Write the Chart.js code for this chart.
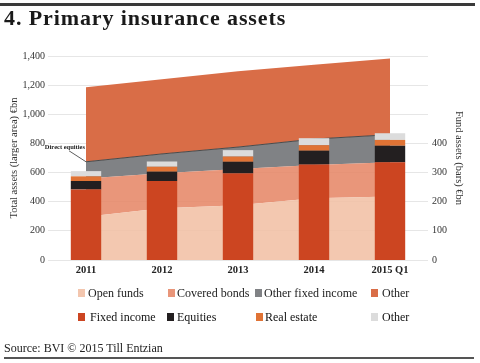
<!DOCTYPE html>
<html>
<head>
<meta charset="utf-8">
<script src="https://cdn.jsdelivr.net/npm/chart.js@4.4.1/dist/chart.umd.min.js"></script>
<style>
  html, body { margin:0; padding:0; background:#fff; }
  body { width:480px; height:363px; position:relative; overflow:hidden; font-family:"Liberation Serif", serif; color:#222; }
  #wrap { position:absolute; left:0; top:0; width:480px; height:363px; }
  .rule-top { position:absolute; left:0; top:3px; width:475px; height:3px; background:#3a3a3a; }
  .rule-bot { position:absolute; left:4px; top:357px; width:470px; height:1.5px; background:#555; }
  .title { position:absolute; left:4px; top:5px; font-weight:bold; font-size:22px; letter-spacing:0.9px; color:#1a1a1a; white-space:nowrap; }
  .source { position:absolute; left:4px; top:341px; font-size:12px; color:#222; white-space:nowrap; }
  .leg { position:absolute; font-size:12px; color:#222; white-space:nowrap; line-height:12px; }
  .leg.b { color:#111; }
  .sw { position:absolute; width:7px; height:7.5px; }
</style>
</head>
<body>
<div id="wrap"><canvas id="c" width="480" height="363"></canvas></div>
<div class="rule-top"></div>
<div class="title">4. Primary insurance assets</div>
<div id="legend"></div>
<div class="source">Source: BVI © 2015 Till Entzian</div>
<div class="rule-bot"></div>
<script>
// ---- data ----
const categories = ['2011', '2012', '2013', '2014', '2015 Q1'];
// areas (left axis, total assets €bn, stacked)
const openFunds        = [297, 355, 375, 423, 436];
const coveredBonds     = [263, 240, 250, 229, 234];
const otherFixedIncome = [114, 133, 150, 178, 190];
const otherArea        = [512, 512, 520, 510, 522];
// bars (right axis, fund assets €bn, stacked)
const fixedIncome = [242, 271, 297, 328, 335];
const equities    = [29, 32, 40, 47, 57];
const realEstate  = [16, 17, 18, 19, 20];
const otherBars   = [18, 18, 22, 24, 23];
const leftTicks  = [0, 200, 400, 600, 800, 1000, 1200, 1400];
const rightTicks = [0, 100, 200, 300, 400];

const C = {
  open: 'rgba(241,192,165,0.88)', cov: 'rgba(230,136,104,0.88)', ofi: '#808285', oth: '#d96d47',
  fi: '#cc4521', eq: '#231f20', re: '#e07335', ob: '#dcdcdc',
  openSw: '#f3c6ae', covSw: '#e9967a'
};

// legend (HTML)
const legendItems = [
  {t:'Open funds', c:C.openSw, sx:78, tx:88, y:289},
  {t:'Covered bonds', c:C.covSw, sx:168, tx:177, y:289},
  {t:'Other fixed income', c:C.ofi, sx:255, tx:264, y:289},
  {t:'Other', c:C.oth, sx:371, tx:382, y:289},
  {t:'Fixed income', c:C.fi, sx:78, tx:90, y:313, b:true},
  {t:'Equities', c:C.eq, sx:167, tx:177, y:313, b:true},
  {t:'Real estate', c:C.re, sx:256, tx:265, y:313, b:true},
  {t:'Other', c:C.ob, sx:371, tx:382, y:313, b:true}
];
const lg = document.getElementById('legend');
legendItems.forEach(it => {
  const s = document.createElement('div'); s.className='sw';
  s.style.left = it.sx+'px'; s.style.top = it.y+'px'; s.style.background = it.c; lg.appendChild(s);
  const t = document.createElement('div'); t.className = it.b ? 'leg b' : 'leg';
  t.style.left = it.tx+'px'; t.style.top = (it.y-2)+'px'; t.textContent = it.t; lg.appendChild(t);
});

const annot = {
  id: 'annot',
  afterDatasetsDraw(chart) {
    const {ctx, scales:{x, y}} = chart;
    const px = x.getPixelForValue(0);
    const py = y.getPixelForValue(openFunds[0] + coveredBonds[0] + otherFixedIncome[0]);
    ctx.save();
    ctx.strokeStyle = '#333'; ctx.lineWidth = 0.8;
    ctx.beginPath(); ctx.moveTo(px - 17, py - 11); ctx.lineTo(px, py); ctx.stroke();
    ctx.fillStyle = '#222';
    ctx.font = 'bold 6.5px "Liberation Serif", serif';
    ctx.textAlign = 'right'; ctx.textBaseline = 'middle';
    ctx.fillText('Direct equities', px - 1, py - 14);
    ctx.restore();
  }
};

const area = (label, data, color, idx, extra) => Object.assign({
  type: 'line', label, data, yAxisID: 'y', stack: 'area', order: 1,
  backgroundColor: color, borderColor: color, borderWidth: 0,
  pointRadius: 0, tension: 0, fill: idx === 0 ? 'origin' : '-1'
}, extra || {});
const bar = (label, data, color) => ({
  type: 'bar', label, data, yAxisID: 'y1', stack: 'bars', order: 0,
  backgroundColor: color, borderWidth: 0,
  categoryPercentage: 1, barPercentage: 0.4
});

const serif = '"Liberation Serif", serif';
new Chart(document.getElementById('c'), {
  data: {
    labels: categories,
    datasets: [
      area('Open funds', openFunds, C.open, 0),
      area('Covered bonds', coveredBonds, C.cov, 1),
      area('Other fixed income', otherFixedIncome, C.ofi, 2, {borderColor:'#4a4a4a', borderWidth:1}),
      area('Other', otherArea, C.oth, 3),
      bar('Fixed income', fixedIncome, C.fi),
      bar('Equities', equities, C.eq),
      bar('Real estate', realEstate, C.re),
      bar('Other', otherBars, C.ob)
    ]
  },
  options: {
    responsive: false, animation: false, devicePixelRatio: 1,
    layout: { padding: { top: 56, bottom: 83, left: 0, right: 0 } },
    plugins: { legend: { display: false }, tooltip: { enabled: false } },
    scales: {
      x: {
        stacked: true, offset: true,
        grid: { display: false, drawTicks: false }, border: { display: false },
        ticks: { padding: 4, color: '#222', font: { family: serif, size: 10.5, weight: 'bold' } },
        afterFit(a) { a.height = 20; }
      },
      y: {
        stacked: true, position: 'left', min: 0, max: 1400,
        afterBuildTicks(a) { a.ticks = leftTicks.map(v => ({value: v})); },
        ticks: { padding: 3, color: '#333', font: { family: serif, size: 10 },
                 callback: v => v.toLocaleString('en-US') },
        grid: { color: '#e6e6e6', lineWidth: 1, drawTicks: false }, border: { display: false },
        title: { display: true, text: 'Total assets (larger area) €bn', color: '#333',
                 font: { family: serif, size: 10.5 }, padding: { top: 8, bottom: 0 } },
        afterFit(a) { a.width = 48; }
      },
      y1: {
        stacked: true, position: 'right', min: 0, max: 700,
        afterBuildTicks(a) { a.ticks = rightTicks.map(v => ({value: v})); },
        ticks: { padding: 4, color: '#333', font: { family: serif, size: 10 } },
        grid: { display: false, drawTicks: false }, border: { display: false },
        title: { display: true, text: 'Fund assets (bars) €bn', color: '#333',
                 font: { family: serif, size: 10.5 }, padding: { top: 15, bottom: 0 } },
        afterFit(a) { a.width = 52; }
      }
    }
  },
  plugins: [annot]
});
</script>
</body>
</html>
